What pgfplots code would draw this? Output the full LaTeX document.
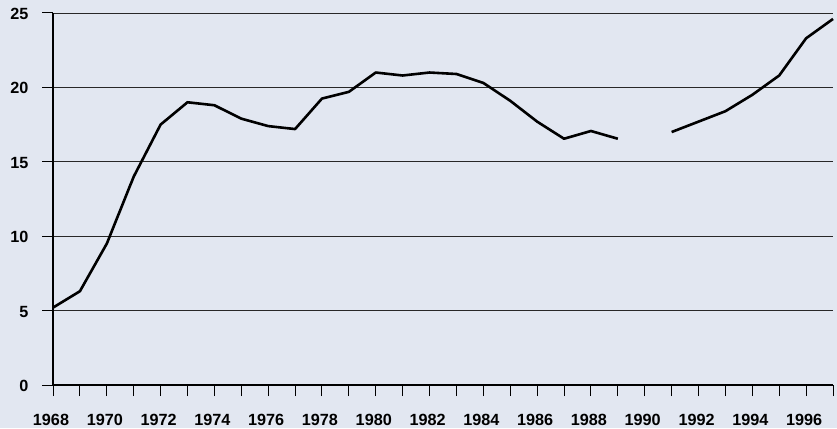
\documentclass[border=0pt]{standalone}
\usepackage{pgfplots}
\pgfplotsset{compat=1.18}
\usepackage{fontspec}
\setmainfont{Liberation Sans}
\definecolor{bgc}{RGB}{226,231,241}
\definecolor{gridc}{RGB}{40,40,40}
\begin{document}
\begin{tikzpicture}[x=1pt,y=1pt]
\fill[bgc] (-53,-43) rectangle (784,385);
\begin{axis}[
  at={(0,0)}, anchor=south west,
  scale only axis, width=780pt, height=372pt,
  xmin=1968, xmax=1997, ymin=0, ymax=25,
  axis x line*=bottom, axis y line*=left,
  axis line style={line width=1.1pt, -},
  xtick={1968,1970,...,1996},
  minor xtick={1969,1971,...,1997},
  ytick={0,5,...,25},
  tick align=outside,
  major tick length=11pt, minor tick length=11pt,
  tick style={line width=1pt, black},
  ymajorgrids, grid style={line width=0.9pt, gridc},
  /pgf/number format/1000 sep={},
  /pgf/number format/assume math mode=true,
  ticklabel style={font=\fontsize{16.2}{17}\selectfont\bfseries},
  xticklabel style={anchor=north, inner sep=0pt, yshift=-18pt, xshift=-2pt},
  yticklabel style={anchor=east, inner sep=0pt, xshift=-13.5pt, yshift=-1pt},
  unbounded coords=jump,
  clip=false,
]
\addplot[black, line width=2.6pt, line join=round] coordinates {
(1968,5.2) (1969,6.3) (1970,9.5) (1971,14.0) (1972,17.5) (1973,19.0)
(1974,18.8) (1975,17.9) (1976,17.4) (1977,17.2) (1978,19.25) (1979,19.7)
(1980,21.0) (1981,20.8) (1982,21.0) (1983,20.9) (1984,20.3) (1985,19.1)
(1986,17.7) (1987,16.55) (1988,17.07) (1989,16.55) (1990,nan)
(1991,17.0) (1992,17.7) (1993,18.4) (1994,19.5) (1995,20.8) (1996,23.3) (1997,24.6)
};
\end{axis}
\pgfresetboundingbox
\path (-53,-43) rectangle (784,385);
\end{tikzpicture}
\end{document}
